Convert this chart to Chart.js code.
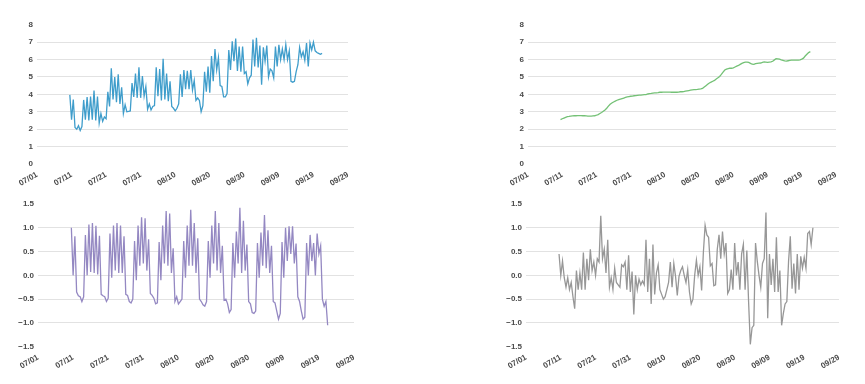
<!DOCTYPE html>
<html>
<head>
<meta charset="utf-8">
<script src="https://cdn.jsdelivr.net/npm/chart.js@4.4.1/dist/chart.umd.min.js"></script>
<style>
  html, body { margin: 0; padding: 0; background: #fff; }
  #wrap { position: relative; width: 865px; height: 384px; overflow: hidden; }
  canvas { position: absolute; }
</style>
</head>
<body>
<div id="wrap">
  <canvas id="observedChart" width="432" height="190" style="left:0;top:0"></canvas>
  <canvas id="trendChart" width="433" height="190" style="left:432px;top:0"></canvas>
  <canvas id="seasonalChart" width="432" height="194" style="left:0;top:190px"></canvas>
  <canvas id="residChart" width="433" height="194" style="left:432px;top:190px"></canvas>
</div>
<script>
// x tick labels, every 10 days from 07/01
const dateTicks = ['07/01', '07/11', '07/21', '07/31', '08/10', '08/20', '08/30', '09/09', '09/19', '09/29'];
const levelTicks = ['0', '1', '2', '3', '4', '5', '6', '7', '8'];
const swingTicks = ['\u22121.5', '\u22121.0', '\u22120.5', '0.0', '0.5', '1.0', '1.5'];

// readings every 12 hours, first one on 07/10 12:00
const observed = [
    3.97, 2.55, 3.7, 2.1, 2.0, 2.2, 1.92, 2.15, 3.68, 2.55, 3.85, 2.5, 3.88, 2.55, 4.22, 2.5,
    3.88, 2.35, 2.9, 2.45, 2.7, 2.6, 4.15, 3.3, 5.5, 3.7, 5.0, 3.55, 5.15, 3.45, 4.4, 2.9,
    3.4, 3.0, 3.02, 3.05, 4.65, 3.85, 5.2, 3.8, 5.55, 3.8, 5.05, 3.9, 4.45, 3.15, 3.45, 3.1,
    3.3, 3.35, 5.55, 3.9, 5.45, 3.65, 6.05, 3.7, 5.2, 3.6, 4.75, 3.3, 3.2, 3.05, 3.2, 3.45,
    5.15, 3.85, 5.4, 4.3, 5.35, 4.3, 5.4, 4.25, 4.8, 3.65, 3.8, 3.65, 3.0, 3.35, 5.3, 4.15,
    5.6, 4.1, 6.2, 4.75, 6.6, 5.4, 6.1, 4.5, 4.45, 3.85, 3.85, 4.05, 6.55, 5.4, 7.05, 5.9,
    7.2, 5.35, 6.75, 5.3, 6.75, 5.2, 5.3, 4.6, 4.95, 5.1, 7.15, 5.6, 7.25, 5.55, 6.8, 4.55,
    6.7, 5.9, 6.8, 5.0, 5.45, 5.35, 4.95, 6.75, 5.6, 6.85, 6.0, 6.6, 6.0, 6.85, 6.0, 6.5,
    4.75, 4.7, 4.75, 5.3, 5.7, 6.7, 6.15, 6.45, 5.95, 6.95, 5.6, 6.95, 6.55, 7.0, 6.5, 6.4,
    6.35, 6.3, 6.35
];

const trend = [
    2.55, 2.6, 2.64, 2.68, 2.72, 2.73, 2.75, 2.76, 2.77, 2.77, 2.78, 2.78, 2.78, 2.77, 2.77, 2.76,
    2.75, 2.75, 2.75, 2.76, 2.77, 2.8, 2.84, 2.9, 2.96, 3.03, 3.1, 3.2, 3.32, 3.43, 3.5, 3.56,
    3.61, 3.66, 3.7, 3.73, 3.76, 3.79, 3.82, 3.85, 3.87, 3.89, 3.9, 3.92, 3.93, 3.94, 3.95, 3.96,
    3.97, 3.98, 3.99, 4.02, 4.04, 4.05, 4.07, 4.08, 4.09, 4.1, 4.12, 4.12, 4.13, 4.13, 4.13, 4.13,
    4.13, 4.12, 4.12, 4.12, 4.12, 4.13, 4.15, 4.15, 4.16, 4.18, 4.2, 4.22, 4.24, 4.26, 4.27, 4.27,
    4.28, 4.3, 4.31, 4.34, 4.42, 4.5, 4.58, 4.65, 4.7, 4.75, 4.8, 4.88, 4.95, 5.03, 5.15, 5.28,
    5.4, 5.45, 5.48, 5.5, 5.5, 5.52, 5.57, 5.62, 5.66, 5.72, 5.78, 5.82, 5.85, 5.85, 5.83, 5.78,
    5.73, 5.72, 5.76, 5.78, 5.79, 5.8, 5.83, 5.86, 5.85, 5.84, 5.85, 5.86, 5.9, 5.98, 6.05, 6.04,
    6.02, 5.98, 5.95, 5.92, 5.91, 5.93, 5.95, 5.96, 5.97, 5.97, 5.97, 5.97, 5.98, 6.02, 6.08, 6.2,
    6.3, 6.4, 6.45
];

const seasonal = [
    1.0, 0.0, 0.82, -0.35, -0.43, -0.45, -0.55, -0.45,
    0.85, 0.0, 1.07, 0.07, 1.1, 0.05, 1.04, 0.02, 0.83, -0.4, -0.43, -0.45, -0.55, -0.48,
    0.88, -0.05, 1.05, 0.1, 1.1, 0.05, 1.05, 0.05, 0.82, -0.4, -0.42, -0.55, -0.58, -0.5,
    0.72, -0.1, 1.05, 0.2, 1.22, 0.25, 1.2, 0.1, 0.76, -0.38, -0.42, -0.48, -0.6, -0.58,
    0.7, -0.1, 1.05, 0.25, 1.35, 0.2, 1.3, 0.05, 0.57, -0.55, -0.45, -0.6, -0.55, -0.5,
    0.72, -0.05, 1.05, 0.2, 1.38, 0.2, 1.1, 0.05, 0.78, -0.5, -0.55, -0.62, -0.65, -0.55,
    0.72, -0.05, 1.05, 0.25, 1.35, 0.1, 1.1, 0.05, 0.62, -0.52, -0.5, -0.6, -0.78, -0.72,
    0.68, -0.05, 0.92, 0.25, 1.42, 0.05, 1.15, 0.1, 0.65, -0.55, -0.6, -0.78, -0.8, -0.75,
    0.68, -0.05, 0.9, 0.2, 1.27, 0.15, 0.95, 0.05, 0.62, -0.55, -0.58, -0.75, -0.92, -0.8,
    0.7, -0.05, 1.0, 0.3, 1.03, 0.45, 1.03, 0.25, 0.67, -0.45, -0.55, -0.75, -0.92, -0.88,
    0.68, 0.0, 0.85, 0.3, 0.68, 0.0, 0.88, 0.45, 0.62, -0.5, -0.65, -0.55, -1.05
];

const resid = [
    0.45, 0.0, 0.3, -0.05, -0.25, -0.05, -0.3, -0.15, -0.45, -0.7, 0.1, -0.3, 0.05, -0.3, 0.48, -0.3,
    0.35, -0.1, 0.55, 0.1, 0.28, 0.0, 0.35, 0.28, 1.25, 0.35, 0.55, 0.05, 0.75, -0.25, -0.05, -0.3,
    0.15, -0.15, -0.2, -0.25, 0.22, 0.18, 0.28, -0.3, 0.42, -0.35, 0.08, -0.82, 0.0, -0.3, -0.08, -0.2,
    -0.12, -0.2, 0.75, -0.35, 0.35, -0.6, 0.65, -0.4, 0.05, 0.22, -0.3, -0.4, -0.5, -0.45, -0.3, -0.15,
    0.28, -0.25, 0.25, -0.02, -0.42, -0.02, 0.1, 0.18, 0.0, -0.15, 0.12, -0.35, -0.6, -0.5, 0.0, 0.32,
    0.0, 0.18, -0.32, 0.48, 1.05, 0.85, 0.8, 0.2, 0.25, -0.22, -0.2, 0.55, 0.85, 0.35, 0.92, 0.45,
    0.68, -0.38, -0.3, 0.12, -0.3, 0.68, 0.0, 0.28, -0.3, 0.45, 0.65, -0.3, 0.52, -0.55, -1.45, -1.1,
    -1.05, 0.68, 0.3, 0.0, -0.25, 0.25, 0.35, 1.32, -0.9, 0.45, -0.2, 0.35, -0.35, 0.8, -0.35, 0.1,
    -1.05, -0.8, -0.6, -0.55, 0.3, 0.82, -0.28, 0.25, -0.38, 0.45, -0.3, 0.4, 0.15, 0.38, 0.15, 0.88,
    0.92, 0.65, 1.0
];

const firstDay = 9.5;   // days after 07/01
const stepDay = 0.5;
const days = observed.map((_, i) => firstDay + i * stepDay);

Chart.defaults.font.family = '"Liberation Sans", Arial, sans-serif';
Chart.defaults.font.size = 8;
Chart.defaults.font.weight = 'bold';
Chart.defaults.color = '#4a4a4a';

function drawPanel(id, values, color, yMin, yMax, yStep, yLabels, box) {
    const ctx = document.getElementById(id).getContext('2d');
    const lastIdx = yLabels.length - 1;
    return new Chart(ctx, {
        type: 'line',
        data: {
            datasets: [{
                data: values.map((v, i) => ({ x: days[i], y: v })),
                borderColor: color,
                borderWidth: 1.3,
                pointRadius: 0,
                tension: 0,
                fill: false
            }]
        },
        options: {
            responsive: false,
            animation: false,
            layout: { padding: { left: 0, right: box.right, top: box.top, bottom: 0 } },
            plugins: { legend: { display: false }, tooltip: { enabled: false } },
            scales: {
                x: {
                    type: 'linear',
                    min: 0,
                    max: 90,
                    afterFit: s => { s.height = box.xh; },
                    grid: { display: false, drawTicks: false },
                    border: { display: false },
                    ticks: {
                        stepSize: 10,
                        autoSkip: false,
                        minRotation: 30,
                        maxRotation: 30,
                        padding: 6,
                        callback: v => dateTicks[Math.round(v / 10)]
                    }
                },
                y: {
                    min: yMin,
                    max: yMax,
                    afterFit: s => { s.width = box.left; },
                    grid: {
                        drawTicks: false,
                        lineWidth: 1,
                        color: c => (c.index === 0 || c.index === lastIdx) ? 'rgba(0,0,0,0)' : '#e2e2e2'
                    },
                    border: { display: false },
                    ticks: {
                        stepSize: yStep,
                        padding: 4,
                        callback: (v, i) => yLabels[i]
                    }
                }
            }
        }
    });
}

drawPanel('observedChart', observed, '#3f9dcb', 0, 8, 1, levelTicks,
    { left: 37, right: 84, top: 24.7, xh: 26 });
drawPanel('trendChart', trend, '#74c176', 0, 8, 1, levelTicks,
    { left: 96, right: 29, top: 24.7, xh: 26 });
drawPanel('seasonalChart', seasonal, '#9488c2', -1.5, 1.5, 0.5, swingTicks,
    { left: 38, right: 78, top: 14, xh: 37.3 });
drawPanel('residChart', resid, '#979797', -1.5, 1.5, 0.5, swingTicks,
    { left: 94, right: 26, top: 14, xh: 37.3 });
</script>
</body>
</html>
